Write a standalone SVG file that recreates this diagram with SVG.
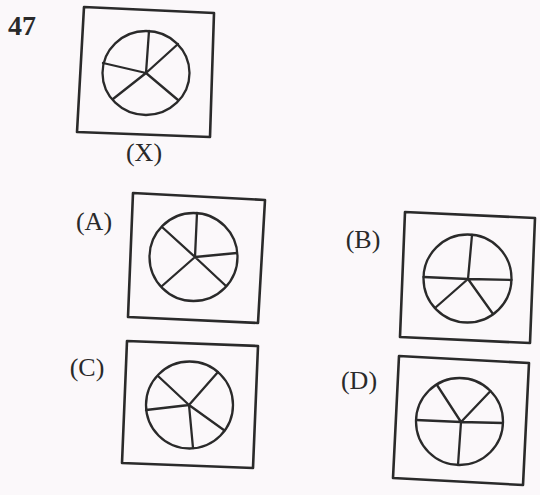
<svg xmlns="http://www.w3.org/2000/svg" width="540" height="495" viewBox="0 0 540 495">
<style>
.box{fill:none;stroke:#2a2a2a;stroke-width:2.6;stroke-linejoin:round}
.ring{fill:none;stroke:#2a2a2a;stroke-width:2.3}
.spoke{fill:none;stroke:#2a2a2a;stroke-width:2.3;stroke-linecap:round}
.lbl{font-family:"Liberation Serif",serif;font-size:26px;fill:#2a2a2a;text-anchor:middle}
.num{font-family:"Liberation Serif",serif;font-size:28px;font-weight:bold;fill:#2a2a2a}
</style>
<rect width="540" height="495" fill="#fbf8fa"/>
<text class="num" x="8" y="35">47</text>
<g id="figX">
<polygon class="box" points="84,7 214,13 210,137 77,132"/>
<ellipse class="ring" cx="146" cy="73" rx="43.5" ry="42"/>
<path class="spoke" d="M146,73 L149,31 M146,73 L178,44 M146,73 L178,100 M146,73 L113,99 M146,73 L103,63"/>
<text class="lbl" x="144" y="161">(X)</text>
</g>
<g id="figA">
<polygon class="box" points="133,193 265,200 258,323 128,317"/>
<circle class="ring" cx="193.5" cy="257" r="44"/>
<path class="spoke" d="M195,257 L197,213 M195,257 L237,253 M195,257 L226,286 M195,257 L162,286 M195,257 L162,227"/>
<text class="lbl" x="94" y="230">(A)</text>
</g>
<g id="figB">
<polygon class="box" points="405,212 535,218 530,343 400,337"/>
<circle class="ring" cx="467.5" cy="278.5" r="44"/>
<path class="spoke" d="M468,279 L472,235 M468,279 L423.5,277 M468,279 L511.5,280 M468,279 L435,308 M468,279 L493,314"/>
<text class="lbl" x="363" y="248">(B)</text>
</g>
<g id="figC">
<polygon class="box" points="127,341 258,346 253,468 122,463"/>
<circle class="ring" cx="189.5" cy="405" r="43.5"/>
<path class="spoke" d="M189,405 L158,376 M189,405 L218,372 M189,405 L146,410 M189,405 L193,448 M189,405 L224.5,430.5"/>
<text class="lbl" x="87" y="376">(C)</text>
</g>
<g id="figD">
<polygon class="box" points="399,356 529,363 523,485 393,478"/>
<circle class="ring" cx="459.5" cy="421.5" r="43.5"/>
<path class="spoke" d="M461,422 L437,385 M461,422 L490.5,391 M461,422 L416,420 M461,422 L503,423 M461,422 L458,465"/>
<text class="lbl" x="359" y="389">(D)</text>
</g>
</svg>
